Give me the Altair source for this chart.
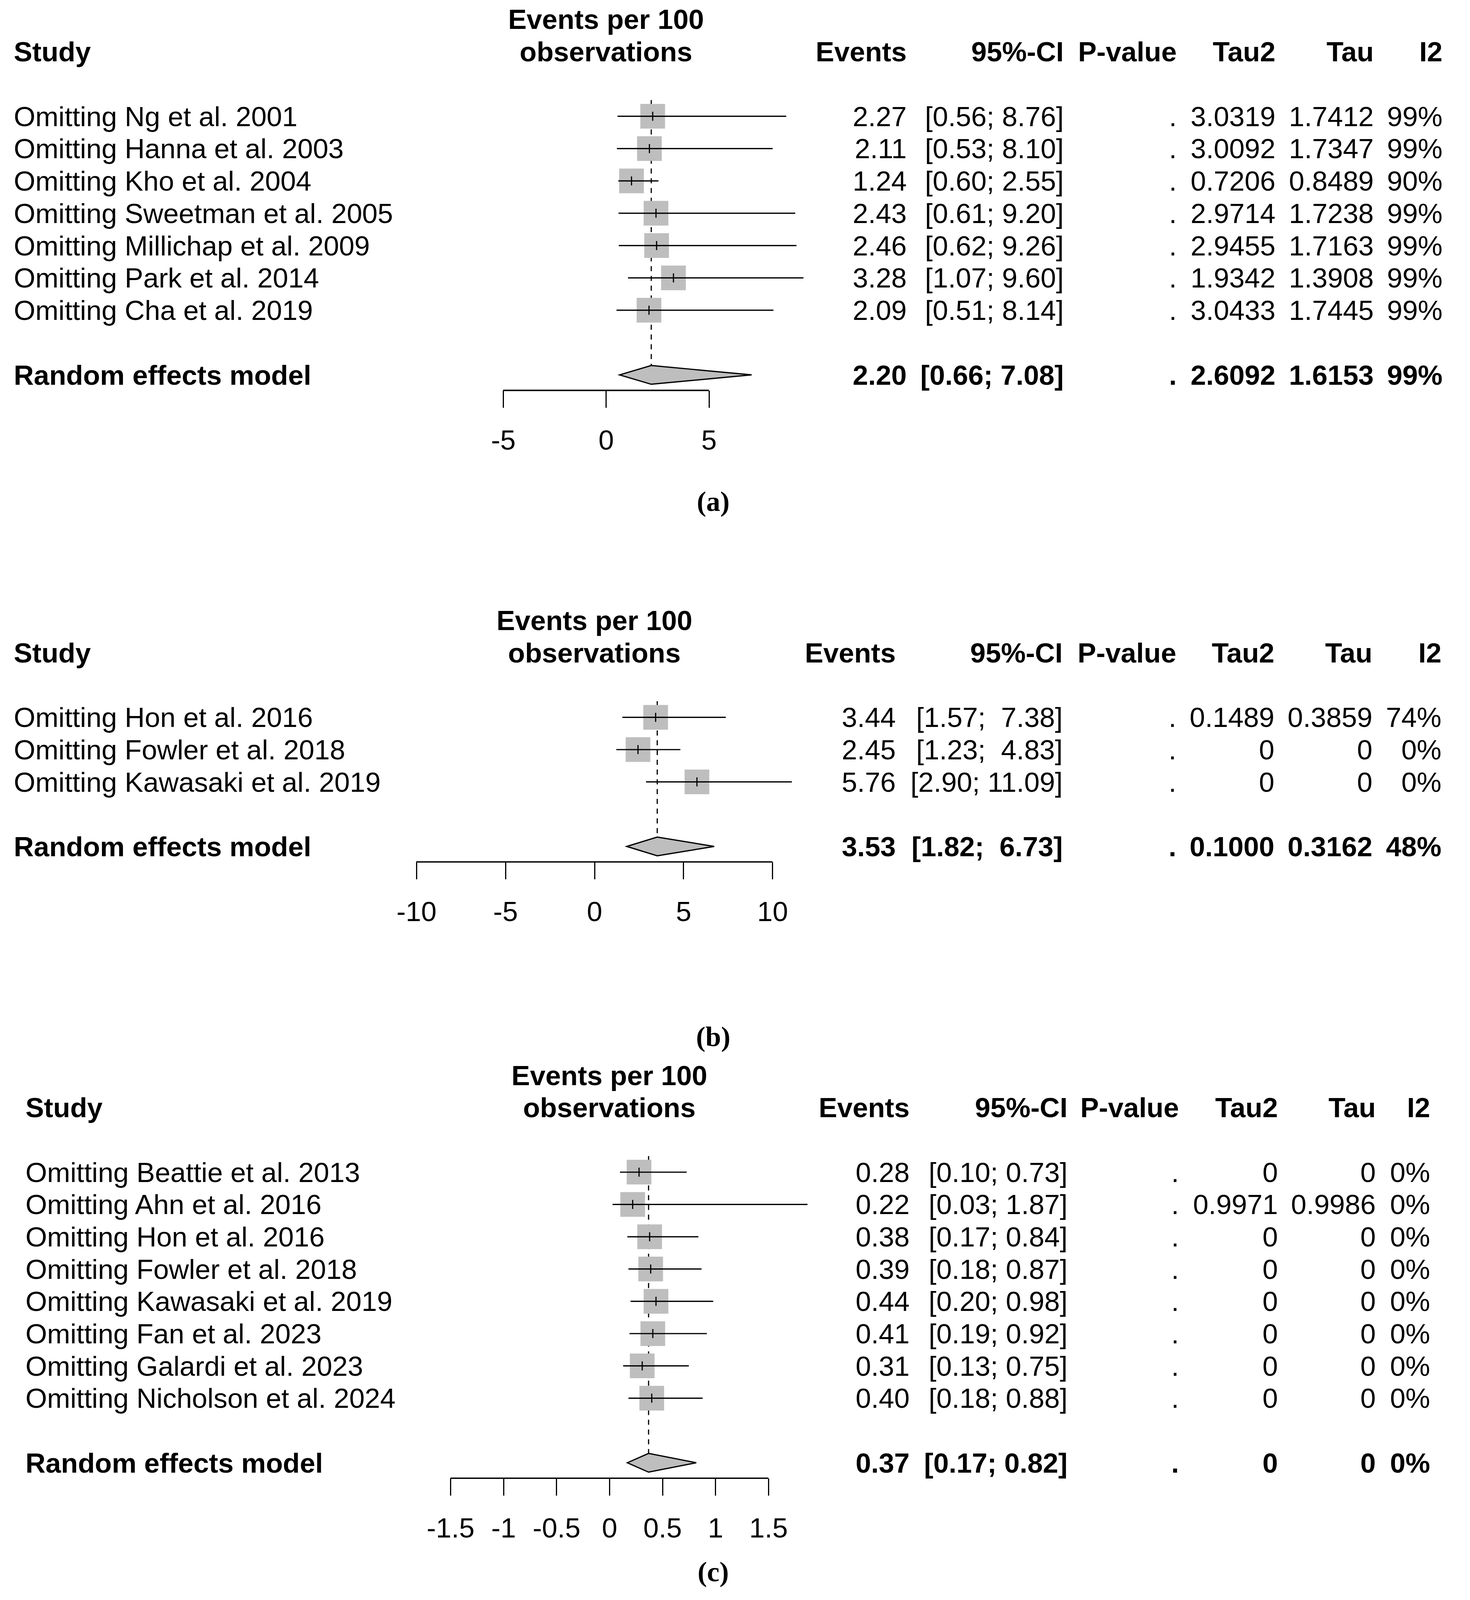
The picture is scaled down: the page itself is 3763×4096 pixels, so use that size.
import altair as alt
import pandas as pd

# ---------------- data ----------------
# Panel (a)
a_studies = ["Omitting Ng et al. 2001", "Omitting Hanna et al. 2003", "Omitting Kho et al. 2004",
             "Omitting Sweetman et al. 2005", "Omitting Millichap et al. 2009",
             "Omitting Park et al. 2014", "Omitting Cha et al. 2019"]
a_est = [2.27, 2.11, 1.24, 2.43, 2.46, 3.28, 2.09]
a_lower = [0.56, 0.53, 0.60, 0.61, 0.62, 1.07, 0.51]
a_upper = [8.76, 8.10, 2.55, 9.20, 9.26, 9.60, 8.14]
a_tau2 = ["3.0319", "3.0092", "0.7206", "2.9714", "2.9455", "1.9342", "3.0433"]
a_tau = ["1.7412", "1.7347", "0.8489", "1.7238", "1.7163", "1.3908", "1.7445"]
a_i2 = ["99%", "99%", "90%", "99%", "99%", "99%", "99%"]
a_pooled = [2.20, 0.66, 7.08]
a_pooled_stats = ["2.6092", "1.6153", "99%"]
a_ticks = [-5, 0, 5]

# Panel (b)
b_studies = ["Omitting Hon et al. 2016", "Omitting Fowler et al. 2018", "Omitting Kawasaki et al. 2019"]
b_est = [3.44, 2.45, 5.76]
b_lower = [1.57, 1.23, 2.90]
b_upper = [7.38, 4.83, 11.09]
b_tau2 = ["0.1489", "0", "0"]
b_tau = ["0.3859", "0", "0"]
b_i2 = ["74%", "0%", "0%"]
b_pooled = [3.53, 1.82, 6.73]
b_pooled_stats = ["0.1000", "0.3162", "48%"]
b_ticks = [-10, -5, 0, 5, 10]

# Panel (c)
c_studies = ["Omitting Beattie et al. 2013", "Omitting Ahn et al. 2016", "Omitting Hon et al. 2016",
             "Omitting Fowler et al. 2018", "Omitting Kawasaki et al. 2019", "Omitting Fan et al. 2023",
             "Omitting Galardi et al. 2023", "Omitting Nicholson et al. 2024"]
c_est = [0.28, 0.22, 0.38, 0.39, 0.44, 0.41, 0.31, 0.40]
c_lower = [0.10, 0.03, 0.17, 0.18, 0.20, 0.19, 0.13, 0.18]
c_upper = [0.73, 1.87, 0.84, 0.87, 0.98, 0.92, 0.75, 0.88]
c_tau2 = ["0", "0.9971", "0", "0", "0", "0", "0", "0"]
c_tau = ["0", "0.9986", "0", "0", "0", "0", "0", "0"]
c_i2 = ["0%", "0%", "0%", "0%", "0%", "0%", "0%", "0%"]
c_pooled = [0.37, 0.17, 0.82]
c_pooled_stats = ["0", "0", "0%"]
c_ticks = [-1.5, -1, -0.5, 0, 0.5, 1, 1.5]

col_headers = ["Events", "95%-CI", "P-value", "Tau2", "Tau", "I2"]

# ---------------- layout / style ----------------
K = 2.6107          # reference (shrunk) px -> output px
W = 3747
FONT = "Liberation Sans"
FS = 71
GREY = "#BEBEBE"
NB = "\u00a0"

GEOM = {
    "a": dict(row0=114.0, step=31.7, x0=594.2, ppu=20.17, left=13.5,
              cols=[889, 1043, 1153.8, 1250.6, 1347, 1414.4], tag_row=12.0),
    "b": dict(row0=703.4, step=31.65, x0=582.8, ppu=17.46, left=13.5,
              cols=[878.3, 1042, 1153.4, 1249.6, 1345.7, 1413.4], tag_row=9.98),
    "c": dict(row0=1149.4, step=31.66, x0=597.5, ppu=103.9, left=25.0,
              cols=[891.9, 1046.7, 1156, 1253, 1349, 1402.3], tag_row=12.47),
}


def px(s):
    return K * s - 8


def fmt_ci(lo, hi, width):
    h = f"{hi:.2f}"
    return f"[{lo:.2f};{NB}" + NB * (width - len(h)) + h + "]"


def panel(key, studies, est, lower, upper, tau2, tau, i2, pooled, pooled_stats, ticks, tag, top, H):
    g = GEOM[key]
    n = len(studies)
    re_row = n + 1
    r_top = (top / K - g["row0"]) / g["step"]
    r_bot = ((top + H) / K - g["row0"]) / g["step"]
    v_left = (8 / K - g["x0"]) / g["ppu"]
    v_right = ((8 + W) / K - g["x0"]) / g["ppu"]
    xs = alt.Scale(domain=[v_left, v_right], nice=False, zero=False)
    ys = alt.Scale(domain=[r_top, r_bot], reverse=True, nice=False, zero=False)
    axis_row = re_row + 0.48
    axis_px = (axis_row - r_top) / (r_bot - r_top) * H
    AX = alt.Axis(values=ticks, domain=False, grid=False, ticks=True, tickSize=44, tickWidth=3,
                  tickColor="black", labelExpr="'' + datum.value", labelFont=FONT, labelFontSize=FS,
                  labelColor="black", labelPadding=51, labelFlush=False, labelOverlap=False,
                  offset=axis_px - H, title=None)

    def X(f):
        return alt.X(f, type="quantitative", scale=xs, axis=AX)

    def Y(f):
        return alt.Y(f, type="quantitative", scale=ys, axis=None)

    width = max(len(f"{h:.2f}") for h in list(upper) + [pooled[2]])
    df = pd.DataFrame({"label": studies, "row": list(range(n)), "est": est,
                       "lower": lower, "upper": upper})
    df["events"] = [f"{v:.2f}" for v in est]
    df["ci"] = [fmt_ci(l, h, width) for l, h in zip(lower, upper)]
    df["p"] = "."
    df["tau2"] = tau2
    df["tau"] = tau
    df["i2"] = i2
    df["t0"] = df["row"] - 0.14
    df["t1"] = df["row"] + 0.14

    pdf = pd.DataFrame({"label": ["Random effects model"], "row": [re_row], "est": [pooled[0]],
                        "events": [f"{pooled[0]:.2f}"], "ci": [fmt_ci(pooled[1], pooled[2], width)],
                        "p": ["."], "tau2": [pooled_stats[0]], "tau": [pooled_stats[1]],
                        "i2": [pooled_stats[2]], "dtop": [-0.5], "dbot": [re_row - 0.29]})
    dia = pd.DataFrame({"x": [pooled[1], pooled[0], pooled[2]],
                        "y1": [re_row, re_row - 0.29, re_row],
                        "y2": [re_row, re_row + 0.29, re_row]})
    axdf = pd.DataFrame({"x1": [ticks[0]], "x2": [ticks[-1]], "row": [axis_row]})

    layers = []
    layers.append(alt.Chart(pdf).mark_rule(color="black", strokeWidth=3, strokeDash=[13, 12])
                  .encode(x=X("est"), y=Y("dtop"), y2="dbot"))
    layers.append(alt.Chart(df).mark_square(size=4000, color=GREY, opacity=1, filled=True)
                  .encode(x=X("est"), y=Y("row")))
    layers.append(alt.Chart(df).mark_rule(color="black", strokeWidth=3.2)
                  .encode(x=X("lower"), x2="upper", y=Y("row")))
    layers.append(alt.Chart(df).mark_rule(color="black", strokeWidth=3)
                  .encode(x=X("est"), y=Y("t0"), y2="t1"))
    layers.append(alt.Chart(dia).mark_area(fill=GREY, stroke="black", strokeWidth=3.2, opacity=1)
                  .encode(x=X("x"), y=Y("y1"), y2="y2"))
    layers.append(alt.Chart(axdf).mark_rule(color="black", strokeWidth=3.6)
                  .encode(x=X("x1"), x2="x2", y=Y("row")))

    def txt(data, field, xpx, align, bold=False):
        return alt.Chart(data).mark_text(
            align=align, baseline="middle", font=FONT, fontSize=FS, dy=4, color="black",
            fontWeight="bold" if bold else "normal"
        ).encode(x=alt.value(xpx), y=Y("row"), text=alt.Text(field, type="nominal"))

    layers.append(txt(df, "label", px(g["left"]), "left"))
    layers.append(txt(pdf, "label", px(g["left"]), "left", bold=True))
    fields = ["events", "ci", "p", "tau2", "tau", "i2"]
    for f, c in zip(fields, g["cols"]):
        layers.append(txt(df, f, px(c), "right"))
        layers.append(txt(pdf, f, px(c), "right", bold=True))

    hdr_left = pd.DataFrame({"t": ["Study"], "row": [-2]})
    layers.append(txt(hdr_left, "t", px(g["left"]), "left", bold=True))
    for h, c in zip(col_headers, g["cols"]):
        layers.append(txt(pd.DataFrame({"t": [h], "row": [-2]}), "t", px(c), "right", bold=True))
    hdr_c = pd.DataFrame({"t": ["Events per 100", "observations"], "row": [-3, -2], "xc": [0, 0]})
    layers.append(alt.Chart(hdr_c).mark_text(align="center", baseline="middle", font=FONT,
                                             fontSize=FS, fontWeight="bold", dy=4, color="black")
                  .encode(x=X("xc"), y=Y("row"), text="t:N"))
    tdf = pd.DataFrame({"t": [tag], "row": [g["tag_row"]]})
    layers.append(alt.Chart(tdf).mark_text(align="center", baseline="middle", font="Liberation Serif",
                                           fontSize=72, fontWeight="bold", dy=-5, color="black")
                  .encode(x=alt.value(px(699.3)), y=Y("row"), text="t:N"))

    return alt.layer(*layers).properties(width=W, height=H)


Ha, Hb, Hc = 1454, 1245, 1378
ta = 8
tb = ta + Ha
tc = tb + Hb

pa = panel("a", a_studies, a_est, a_lower, a_upper, a_tau2, a_tau, a_i2, a_pooled, a_pooled_stats,
           a_ticks, "(a)", ta, Ha)
pb = panel("b", b_studies, b_est, b_lower, b_upper, b_tau2, b_tau, b_i2, b_pooled, b_pooled_stats,
           b_ticks, "(b)", tb, Hb)
pc = panel("c", c_studies, c_est, c_lower, c_upper, c_tau2, c_tau, c_i2, c_pooled, c_pooled_stats,
           c_ticks, "(c)", tc, Hc)

chart = alt.vconcat(pa, pb, pc, spacing=0, bounds="flush").properties(padding=0).configure_view(stroke=None)

chart.save("out.html", embed_options={"renderer": "svg", "actions": False})
